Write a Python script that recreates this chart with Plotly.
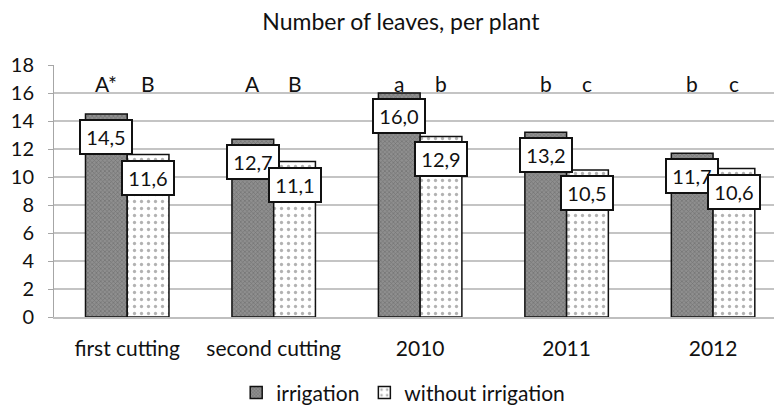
import plotly.graph_objects as go

categories = ["first cutting", "second cutting", "2010", "2011", "2012"]
irrigation = [14.5, 12.7, 16.0, 13.2, 11.7]
without_irrigation = [11.6, 11.1, 12.9, 10.5, 10.6]
letters_irr = ["A*", "A", "a", "b", "b"]
letters_wo = ["B", "B", "b", "c", "c"]
y_ticks = [0, 2, 4, 6, 8, 10, 12, 14, 16, 18]

FONT = "Lato, Calibri, Carlito, sans-serif"
BARGAP = 0.43
bw = (1 - BARGAP) / 2

fig = go.Figure()
fig.add_trace(go.Bar(
    x=list(range(len(categories))), y=irrigation, name="irrigation",
    marker=dict(color="#8a8a8a", line=dict(color="#111111", width=1.5),
                pattern=dict(shape="x", fgcolor="#555555", bgcolor="#8f8f8f", size=3, solidity=0.4)),
))
fig.add_trace(go.Bar(
    x=list(range(len(categories))), y=without_irrigation, name="without irrigation",
    marker=dict(color="white", line=dict(color="#111111", width=1.5),
                pattern=dict(shape=".", fgcolor="#666666", bgcolor="white", size=7, solidity=0.17)),
))

annotations = []
for i in range(len(categories)):
    for off, val in ((-bw / 2, irrigation[i]), (bw / 2, without_irrigation[i])):
        annotations.append(dict(
            x=i + off, y=val, xref="x", yref="y", yshift=-23,
            text=f"{val:.1f}".replace(".", ","), showarrow=False,
            font=dict(family=FONT, size=20, color="#111111"),
            bgcolor="white", bordercolor="#111111", borderwidth=2, borderpad=3,
            width=44, height=26,
        ))
    annotations.append(dict(x=i - bw / 2, y=16.7, xref="x", yref="y", text=letters_irr[i],
                            showarrow=False, font=dict(family=FONT, size=21, color="#111111")))
    annotations.append(dict(x=i + bw / 2, y=16.7, xref="x", yref="y", text=letters_wo[i],
                            showarrow=False, font=dict(family=FONT, size=21, color="#111111")))

fig.update_layout(
    width=774, height=405,
    margin=dict(l=54, r=0, t=65, b=88, autoexpand=False),
    paper_bgcolor="white", plot_bgcolor="white",
    barmode="group", bargap=BARGAP, bargroupgap=0,
    title=dict(text="Number of leaves, per plant", x=0.518, xanchor="center", y=0.945, yanchor="middle",
               font=dict(family=FONT, size=23, color="#111111")),
    font=dict(family=FONT, color="#111111"),
    showlegend=True,
    legend=dict(orientation="h", x=0.485, xanchor="center", yref="container", y=0.03, yanchor="middle",
                font=dict(family=FONT, size=21, color="#111111"), itemwidth=30, traceorder="normal"),
    annotations=annotations,
)
fig.update_xaxes(
    range=[-0.5, 4.416], tickvals=list(range(len(categories))), ticktext=categories,
    showgrid=False, showline=True, linecolor="#bfbfbf", linewidth=1.5, ticks="", automargin=False,
    tickfont=dict(family=FONT, size=21, color="#111111"), ticklabelstandoff=12, zeroline=False,
)
fig.update_yaxes(
    range=[0, 18], tickvals=y_ticks, showgrid=True, gridcolor="#c4c4c4", gridwidth=1.5, automargin=False,
    showline=True, linecolor="#a6a6a6", linewidth=1, ticks="outside", ticklen=5, tickcolor="#a6a6a6",
    tickfont=dict(family=FONT, size=20, color="#111111"), ticklabelstandoff=10, zeroline=False,
)

fig.write_html("out.html", config={"displayModeBar": False},
               post_script="document.body.style.margin='0';")
